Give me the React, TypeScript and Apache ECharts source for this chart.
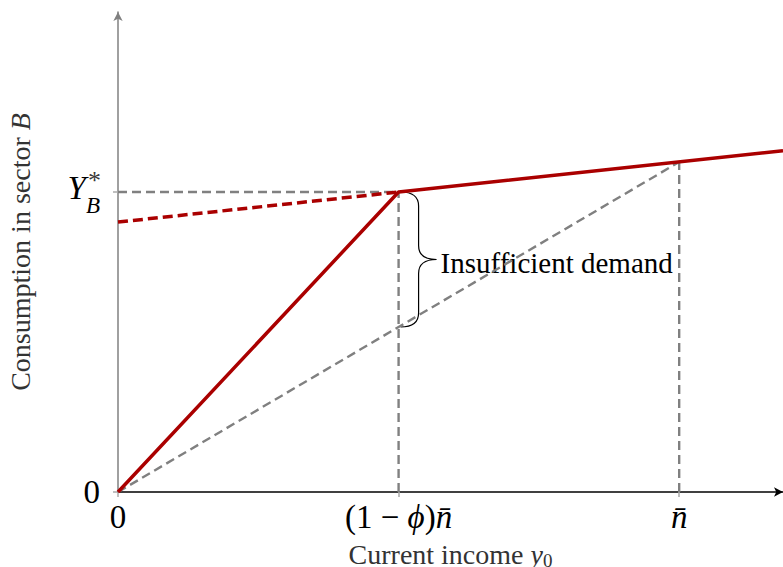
import React, { useEffect, useRef } from "react";
import * as echarts from "echarts";

const X_MAX = 1.185;
const Y_MAX = 1.4545;
const Y_B = 0.909;
const X_TICKS = [0, 0.5, 1];
const X_TICK_LABELS = ["{r|0}", "{r|(1 − }{i|ϕ}{r|)}{i|n̄}", "{i|n̄}"];
const Y_TICKS = [0, Y_B];
const RED_SOLID = [[0, 0], [0.5, Y_B], [1.185, 1.034]];
const RED_DASH = [[0, 0.818], [0.5, Y_B]];
const DIAG = [[0, 0], [1, 1]];
const GUIDE_H = [[0, Y_B], [0.5, Y_B]];
const GUIDE_V1 = [[0.5, 0], [0.5, Y_B]];
const GUIDE_V2 = [[1, 0], [1, 1]];
const BRACE = [[0.5, Y_B, 0.5]];
const BRACE_LABEL = "Insufficient demand";

const SERIF = "'Liberation Serif', 'DejaVu Serif', serif";
const RED = "#aa0000";
const GRAY = "#808080";

export default function App() {
  const ref = useRef<HTMLDivElement>(null);
  useEffect(() => {
    const chart = echarts.init(ref.current!, null, { renderer: "svg" });
    const gray = (data: number[][]) => ({
      type: "line",
      data,
      symbol: "none",
      silent: true,
      lineStyle: { color: GRAY, width: 2.4, type: [9, 5] },
    });
    chart.setOption({
      animation: false,
      grid: { left: 118, right: 0, top: 12, bottom: 75, outerBoundsMode: "none", containLabel: false },
      xAxis: {
        type: "value",
        min: 0,
        max: X_MAX,
        splitLine: { show: false },
        axisLine: {
          lineStyle: { color: "#000", width: 1.5 },
          symbol: ["none", "arrow"],
          symbolSize: [7, 9],
        },
        axisTick: { show: true, customValues: X_TICKS, length: 5, lineStyle: { color: "#aaa", width: 1.5 } },
        axisLabel: {
          customValues: X_TICKS,
          margin: 8,
          formatter: (v: number) => X_TICK_LABELS[X_TICKS.indexOf(v)] ?? "",
          rich: {
            r: { fontFamily: SERIF, fontSize: 33, color: "#000" },
            i: { fontFamily: SERIF, fontSize: 33, fontStyle: "italic", color: "#000" },
          },
        },
        name: "{r|Current income }{i|y}{s|0}",
        nameLocation: "middle",
        nameGap: 47,
        nameTextStyle: {
          rich: {
            r: { fontFamily: SERIF, fontSize: 28, color: "#333" },
            i: { fontFamily: SERIF, fontSize: 28, fontStyle: "italic", color: "#333" },
            s: { fontFamily: SERIF, fontSize: 19, color: "#333", padding: [12, 0, 0, 0] },
          },
        },
      },
      yAxis: {
        type: "value",
        min: 0,
        max: Y_MAX,
        splitLine: { show: false },
        axisLine: {
          lineStyle: { color: GRAY, width: 1.5 },
          symbol: ["none", "arrow"],
          symbolSize: [7, 9],
        },
        axisTick: { show: true, customValues: Y_TICKS, length: 5, lineStyle: { color: "#aaa", width: 1.5 } },
        axisLabel: {
          customValues: Y_TICKS,
          margin: 18,
          formatter: (v: number) => (v === 0 ? "{r|0}" : "{Y|Y}{B|B}"),
          rich: {
            r: { fontFamily: SERIF, fontSize: 33, color: "#000" },
            Y: { fontFamily: SERIF, fontSize: 33, fontStyle: "italic", color: "#000", padding: [0, 0, 8, 0] },
            B: { fontFamily: SERIF, fontSize: 23, fontStyle: "italic", color: "#000", padding: [26, 0, 0, 0] },
          },
        },
        name: "{r|Consumption in sector }{i|B}",
        nameLocation: "middle",
        nameGap: 84,
        nameTextStyle: {
          rich: {
            r: { fontFamily: SERIF, fontSize: 28, color: "#333" },
            i: { fontFamily: SERIF, fontSize: 28, fontStyle: "italic", color: "#333" },
          },
        },
      },
      series: [
        gray(DIAG),
        gray(GUIDE_H),
        gray(GUIDE_V1),
        gray(GUIDE_V2),
        {
          type: "line",
          data: RED_DASH,
          symbol: "none",
          lineStyle: { color: RED, width: 3.5, type: [10, 5] },
        },
        {
          type: "line",
          data: RED_SOLID,
          symbol: "none",
          lineStyle: { color: RED, width: 3.5 },
        },
        {
          type: "scatter",
          data: [[0, Y_B]],
          symbolSize: 0,
          silent: true,
          label: {
            show: true,
            position: "left",
            distance: 17,
            offset: [0, -12],
            formatter: "*",
            fontFamily: SERIF,
            fontSize: 26,
            color: "#000",
          },
        },
        {
          type: "custom",
          data: BRACE,
          silent: true,
          renderItem: (params: any, api: any) => {
            const top = api.coord([api.value(0), api.value(1)]);
            const bot = api.coord([api.value(0), api.value(2)]);
            const x0 = top[0] + 2;
            const x1 = x0 + 18;
            const x2 = x0 + 36;
            const y0 = top[1];
            const y1 = bot[1];
            const ym = (y0 + y1) / 2;
            const r = 14;
            const d =
              `M${x0} ${y0} Q${x1} ${y0} ${x1} ${y0 + r} L${x1} ${ym - r} Q${x1} ${ym} ${x2} ${ym} ` +
              `Q${x1} ${ym} ${x1} ${ym + r} L${x1} ${y1 - r} Q${x1} ${y1} ${x0} ${y1}`;
            return {
              type: "group",
              children: [
                {
                  type: "path",
                  shape: { pathData: d },
                  style: { fill: "none", stroke: "#000", lineWidth: 1.2 },
                },
                {
                  type: "text",
                  x: x2 + 4,
                  y: ym + 3,
                  style: {
                    text: BRACE_LABEL,
                    fontFamily: SERIF,
                    fontSize: 29,
                    fill: "#000",
                    verticalAlign: "middle",
                    align: "left",
                  },
                },
              ],
            };
          },
        },
      ],
    });
    return () => chart.dispose();
  }, []);
  return <div ref={ref} style={{ width: 783, height: 567, position: "absolute", left: 0, top: 0 }} />;
}
